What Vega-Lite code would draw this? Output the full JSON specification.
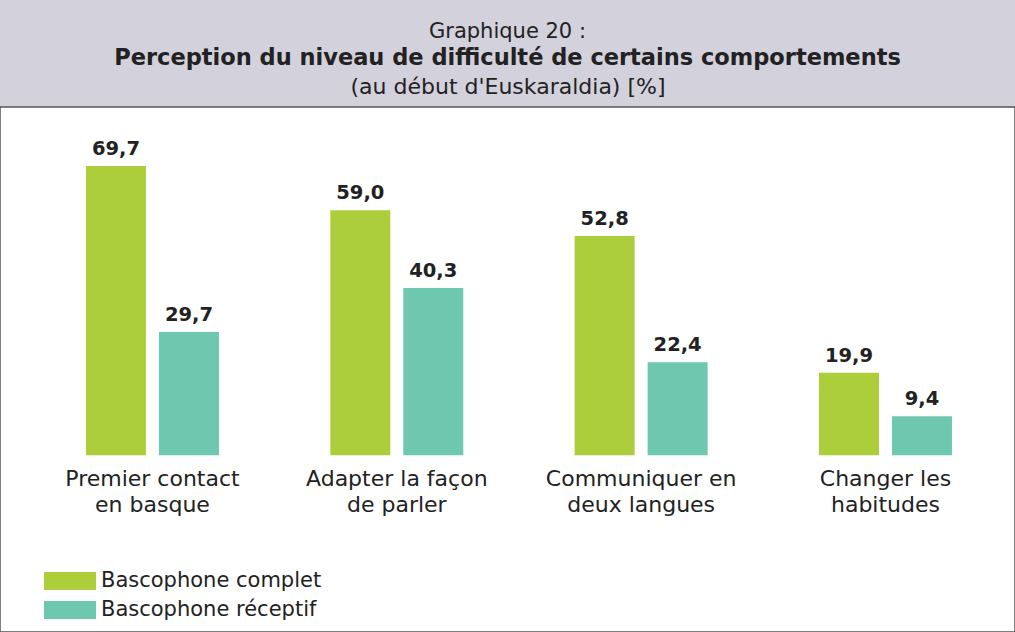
{
  "$schema": "https://vega.github.io/schema/vega-lite/v6.json",
  "width": 1015,
  "height": 632,
  "autosize": {"type": "fit", "contains": "padding"},
  "padding": {"left": 0, "right": 0, "top": 20, "bottom": 0},
  "background": "#d3d1dc",
  "config": {
    "view": {"fill": "white", "stroke": "#555555", "strokeWidth": 1.5},
    "locale": {"number": {"decimal": ",", "thousands": " ", "grouping": [3], "currency": ["", " €"]}},
    "font": "DejaVu Sans"
  },
  "title": {
    "text": "Graphique 20 :",
    "subtitle": "Perception du niveau de difficulté de certains comportements",
    "fontSize": 21,
    "fontWeight": "normal",
    "subtitleFontSize": 22.5,
    "subtitleFontWeight": "bold",
    "color": "#222222",
    "subtitleColor": "#222222",
    "anchor": "middle",
    "subtitlePadding": 5,
    "offset": 6
  },
  "data": {
    "values": [
      {"cat": "Premier contact|en basque", "serie": "Bascophone complet", "val": 69.7},
      {"cat": "Premier contact|en basque", "serie": "Bascophone réceptif", "val": 29.7},
      {"cat": "Adapter la façon|de parler", "serie": "Bascophone complet", "val": 59.0},
      {"cat": "Adapter la façon|de parler", "serie": "Bascophone réceptif", "val": 40.3},
      {"cat": "Communiquer en|deux langues", "serie": "Bascophone complet", "val": 52.8},
      {"cat": "Communiquer en|deux langues", "serie": "Bascophone réceptif", "val": 22.4},
      {"cat": "Changer les|habitudes", "serie": "Bascophone complet", "val": 19.9},
      {"cat": "Changer les|habitudes", "serie": "Bascophone réceptif", "val": 9.4}
    ]
  },
  "layer": [
    {
      "mark": {"type": "bar"},
      "encoding": {
        "x": {
          "field": "cat", "type": "nominal", "sort": null,
          "scale": {"paddingInner": 0.4557, "paddingOuter": 0.3049, "align": 0.577},
          "axis": {
            "orient": "bottom", "offset": -177, "domain": false, "ticks": false,
            "labelAngle": 0, "labelExpr": "split(datum.value, '|')",
            "labelFontSize": 22, "labelLineHeight": 26, "labelPadding": 13,
            "labelLimit": 0,
            "labelBaseline": "top", "labelColor": "#222222", "title": null
          }
        },
        "xOffset": {
          "field": "serie", "type": "nominal", "sort": null,
          "scale": {"paddingInner": 0.178, "paddingOuter": 0}
        },
        "y": {
          "field": "val", "type": "quantitative", "stack": null,
          "scale": {"domain": [-42.54, 83.88], "nice": false, "zero": false},
          "axis": null
        },
        "color": {
          "field": "serie", "type": "nominal", "sort": null,
          "scale": {"range": ["#acce3b", "#6ec8b0"]},
          "legend": {
            "title": null, "orient": "none", "legendX": 57, "legendY": 461,
            "symbolType": "M-2,-0.692H2V0.692H-2Z", "symbolSize": 676,
            "symbolStrokeWidth": 0, "labelFontSize": 21, "labelColor": "#222222",
            "labelLimit": 0, "labelOffset": 18, "padding": 0, "rowPadding": 6
          }
        }
      }
    },
    {
      "mark": {"type": "text", "fontSize": 19.5, "fontWeight": "bold", "color": "#222222", "baseline": "alphabetic", "dy": -11},
      "encoding": {
        "x": {
          "field": "cat", "type": "nominal", "sort": null,
          "axis": {
            "orient": "top", "labels": false, "ticks": false, "domain": false,
            "title": "(au début d'Euskaraldia) [%]", "titleFontSize": 22,
            "titleFontWeight": "normal", "titleColor": "#222222", "titlePadding": 9
          }
        },
        "xOffset": {"field": "serie", "type": "nominal", "sort": null},
        "y": {"field": "val", "type": "quantitative"},
        "text": {"field": "val", "type": "quantitative", "format": ".1f"}
      }
    }
  ],
  "resolve": {"axis": {"x": "independent"}}
}
